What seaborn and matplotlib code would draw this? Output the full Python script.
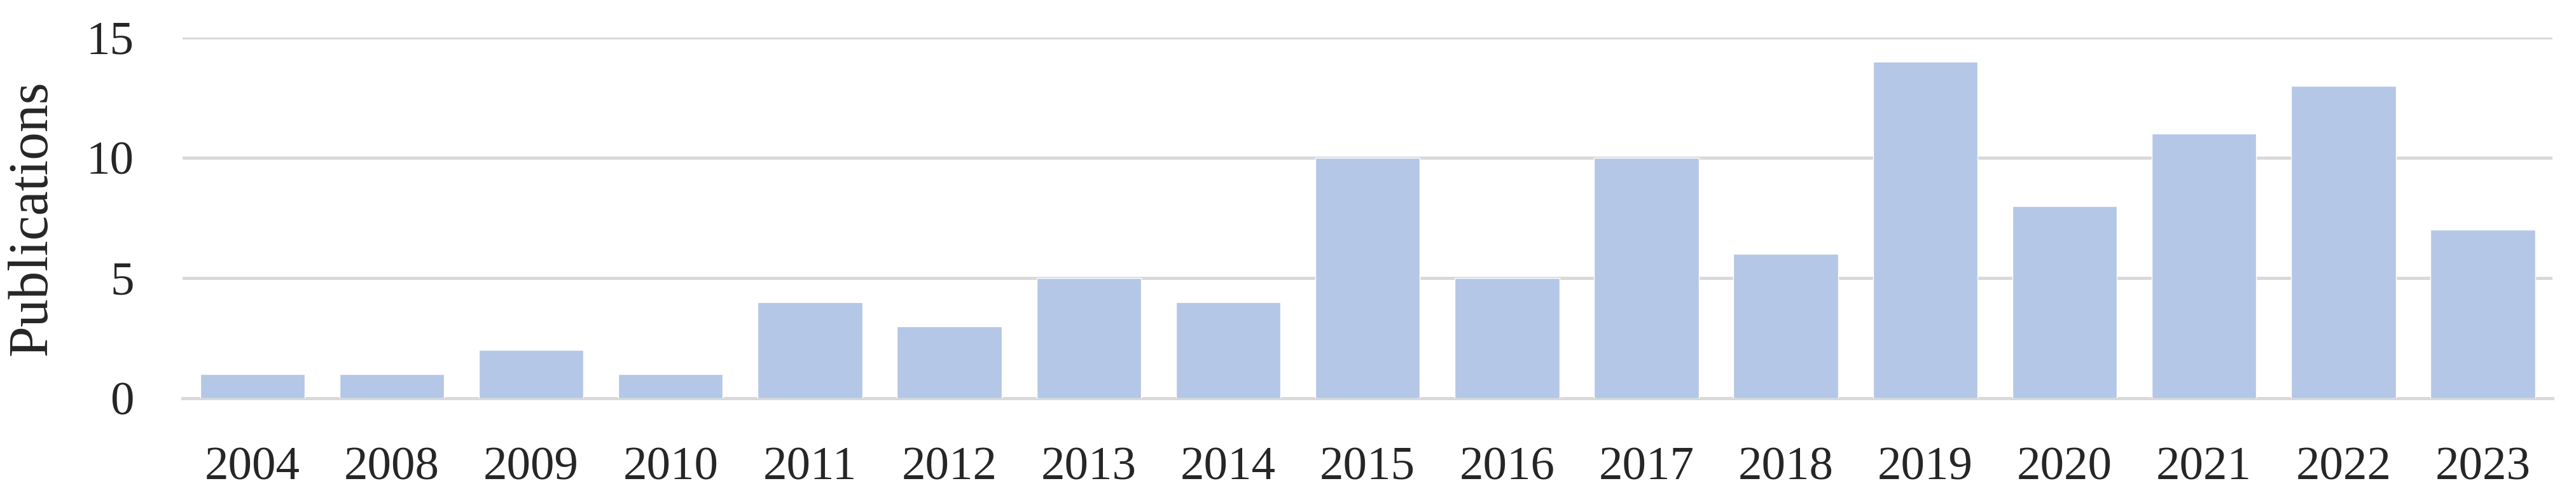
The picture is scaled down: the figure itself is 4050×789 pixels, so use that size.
import pandas as pd
import seaborn as sns
import matplotlib.pyplot as plt

# Publications per year
years = ['2004', '2008', '2009', '2010', '2011', '2012', '2013', '2014', '2015',
         '2016', '2017', '2018', '2019', '2020', '2021', '2022', '2023']
publications = [1, 1, 2, 1, 4, 3, 5, 4, 10, 5, 10, 6, 14, 8, 11, 13, 7]
y_ticks = [0, 5, 10, 15]

df = pd.DataFrame({'Year': years, 'Publications': publications})

sns.set_style('white')
plt.rcParams['font.family'] = ['Liberation Serif', 'DejaVu Serif']

fig = plt.figure(figsize=(40.5, 7.89), dpi=100)
ax = fig.add_axes([0.0709, 0.2066, 0.92, 0.7186])

sns.barplot(data=df, x='Year', y='Publications', color='#B4C7E7', saturation=1,
            width=0.75, ax=ax, zorder=3)

ax.set_ylim(0, 15)
ax.set_xlim(-0.5, len(years) - 0.5)
ax.set_yticks(y_ticks)
ax.yaxis.grid(True, color='#D9D9D9', linewidth=3.6, zorder=0)
ax.set_axisbelow(True)
for side in ['top', 'right', 'left']:
    ax.spines[side].set_visible(False)
ax.spines['bottom'].set_color('#D9D9D9')
ax.spines['bottom'].set_linewidth(3.6)

ax.tick_params(axis='y', length=0, pad=55, labelsize=54)
ax.tick_params(axis='x', length=0, pad=55, labelsize=54)
ax.set_xlabel('')
ax.set_ylabel('Publications', fontsize=63)
ax.yaxis.set_label_coords(-0.0526, 0.5)

fig.savefig('out.png', dpi=100)
